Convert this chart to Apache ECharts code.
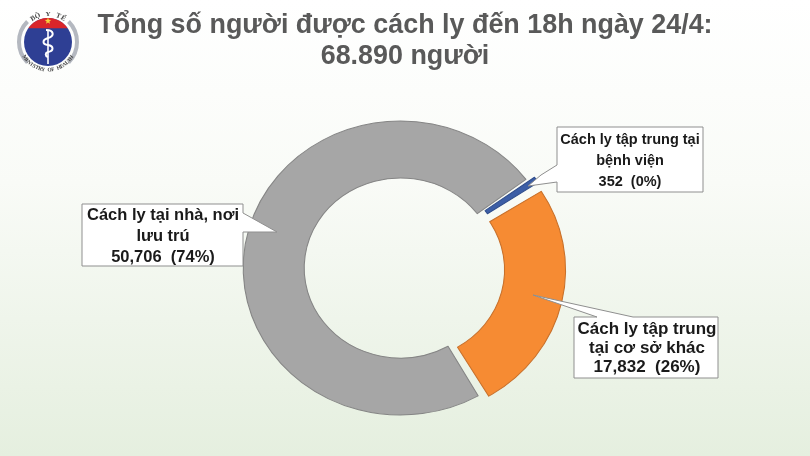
<!DOCTYPE html>
<html>
<head>
<meta charset="utf-8">
<style>html,body{margin:0;padding:0}#c{width:810px;height:456px}</style>
<script src="https://cdn.jsdelivr.net/npm/echarts@6/dist/echarts.min.js"></script>
</head>
<body>
<div id="c"></div>
<script>
// data
const titleLines = ["Tổng số người được cách ly đến 18h ngày 24/4:", "68.890 người"];
const names = ["Cách ly tập trung tại bệnh viện", "Cách ly tập trung tại cơ sở khác", "Cách ly tại nhà, nơi lưu trú"];
const values = [352, 17832, 50706];
const exploded = [true, true, false];
const valueLabels = ["352  (0%)", "17,832  (26%)", "50,706  (74%)"];
const labelLines = [
  ["Cách ly tập trung tại", "bệnh viện"],
  ["Cách ly tập trung", "tại cơ sở khác"],
  ["Cách ly tại nhà, nơi", "lưu trú"]
];
const colors = ["#3c5ea6", "#f68b33", "#a6a6a6"];
const borders = ["#2f4d8c", "#c8702a", "#858585"];

const FONT = '"Liberation Sans", Arial, sans-serif';
const CX = 400.5, CY = 268;
const STRETCH = 1.07; // the source picture is a bit wider than tall, so is its doughnut

// callout outline = box + tail, one polygon so the tail opens into the box
const callouts = [
  { font: 14.5, lh: 21, cx: 630, y: 129.5, pts: [[557,127],[703,127],[703,192],[557,192],[557,182],[528,186],[541,175],[557,165]] },
  { font: 17, lh: 19, cx: 647, y: 319.5, pts: [[574,317],[597,317],[533,295],[633,317],[718,317],[718,378],[574,378]] },
  { font: 16.5, lh: 21, cx: 163, y: 204.5, pts: [[82,204],[243,204],[243,213],[277,232],[243,232],[243,266],[82,266]] }
];

function calloutGraphics(i) {
  const c = callouts[i];
  const lines = labelLines[i].concat(valueLabels[i]);
  return [
    { type: "polygon", z: 10, shape: { points: c.pts }, style: { fill: "#fff", stroke: "#8f8f8f", lineWidth: 1 } },
    {
      type: "text", z: 11, x: c.cx, y: c.y,
      style: { text: lines.join("\n"), font: "bold " + c.font + "px " + FONT, lineHeight: c.lh, fill: "#1a1a1a", align: "center", verticalAlign: "top" }
    }
  ];
}

// ministry logo, small and blurred in the source
function logo() {
  const cx = 48, cy = 42;
  const snake = [
    [46,30, 54,30, 55,36, 48,38],
    [48,38, 42,40, 42,44, 48,45],
    [48,45, 54,46, 54,51, 48,52],
    [48,52, 45,53, 45,56, 48,57]
  ];
  const capPts = [];
  for (let a = -145; a <= -35; a += 5) {
    capPts.push([cx + 24 * Math.cos(a * Math.PI / 180), cy + 24 * Math.sin(a * Math.PI / 180)]);
  }
  const out = [
    { type: "arc", shape: { cx, cy, r: 29, startAngle: Math.PI * 0.75, endAngle: Math.PI * 1.25 }, style: { stroke: "#b4b8c0", lineWidth: 4, fill: null } },
    { type: "arc", shape: { cx, cy, r: 29, startAngle: -Math.PI * 0.25, endAngle: Math.PI * 0.25 }, style: { stroke: "#b4b8c0", lineWidth: 4, fill: null } },
    { type: "circle", shape: { cx, cy, r: 24 }, style: { fill: "#2e3f94" } },
    { type: "polygon", shape: { points: capPts }, style: { fill: "#d9252a" } },
    { type: "polygon", shape: { points: star(48, 21, 3.4) }, style: { fill: "#f5d33c" } },
    { type: "line", shape: { x1: 48, y1: 30, x2: 48, y2: 64 }, style: { stroke: "#fff", lineWidth: 1.6 } }
  ];
  snake.forEach(s => out.push({
    type: "bezierCurve",
    shape: { x1: s[0], y1: s[1], cpx1: s[2], cpy1: s[3], cpx2: s[4], cpy2: s[5], x2: s[6], y2: s[7] },
    style: { stroke: "#fff", lineWidth: 2, fill: null }
  }));
  const curved = (txt, r, mid, step, flip, size) => {
    [...txt].forEach((ch, k) => {
      const a = mid + (k - (txt.length - 1) / 2) * step * (flip ? -1 : 1);
      out.push({
        type: "text", x: cx + r * Math.cos(a), y: cy + r * Math.sin(a),
        rotation: flip ? -(a - Math.PI / 2) : -(a + Math.PI / 2),
        style: { text: ch, font: "bold " + size + "px " + '"Liberation Serif", serif', fill: "#444", align: "center", verticalAlign: "middle" }
      });
    });
  };
  curved("BỘ Y TẾ", 28, -Math.PI / 2, 0.19, false, 7);
  curved("MINISTRY OF HEALTH", 28, Math.PI / 2, 0.115, true, 5.5);
  return out;
}

function star(x, y, r) {
  const p = [];
  for (let i = 0; i < 10; i++) {
    const a = -Math.PI / 2 + i * Math.PI / 5, q = i % 2 ? r * 0.42 : r;
    p.push([x + q * Math.cos(a), y + q * Math.sin(a)]);
  }
  return p;
}

const chart = echarts.init(document.getElementById("c"), null, { renderer: "canvas" });
chart.setOption({
  animation: false,
  backgroundColor: {
    type: "linear", x: 0, y: 0, x2: 0, y2: 1,
    colorStops: [{ offset: 0, color: "#ffffff" }, { offset: 0.4, color: "#f9fbf7" }, { offset: 1, color: "#e5efdf" }]
  },
  title: {
    text: titleLines.join("\n"),
    left: 400, top: 5, textAlign: "center",
    textStyle: { fontFamily: FONT, fontWeight: "bold", fontSize: 26.9, lineHeight: 31, color: "#595959" }
  },
  series: [{
    type: "pie",
    center: [CX, CY],
    radius: [90, 147],
    startAngle: 36.5,
    clockwise: true,
    padAngle: 1.2,
    minAngle: 2.4,
    selectedMode: "multiple",
    selectedOffset: 8,
    label: { show: false },
    labelLine: { show: false },
    emphasis: { disabled: true },
    data: values.map((v, i) => ({
      name: names[i], value: v, selected: exploded[i],
      itemStyle: { color: colors[i], borderColor: borders[i], borderWidth: 1 },
      select: { itemStyle: { color: colors[i], borderColor: borders[i], borderWidth: 1 } }
    }))
  }],
  graphic: { elements: logo().concat(calloutGraphics(0), calloutGraphics(1), calloutGraphics(2)) }
});

// pie has no aspect option, widen the sectors after layout
chart.getZr().storage.getDisplayList(true).forEach(el => {
  if (el.type === "sector") {
    el.originX = CX;
    el.originY = CY;
    el.scaleX = STRETCH;
    el.markRedraw();
  }
});
</script>
</body>
</html>
